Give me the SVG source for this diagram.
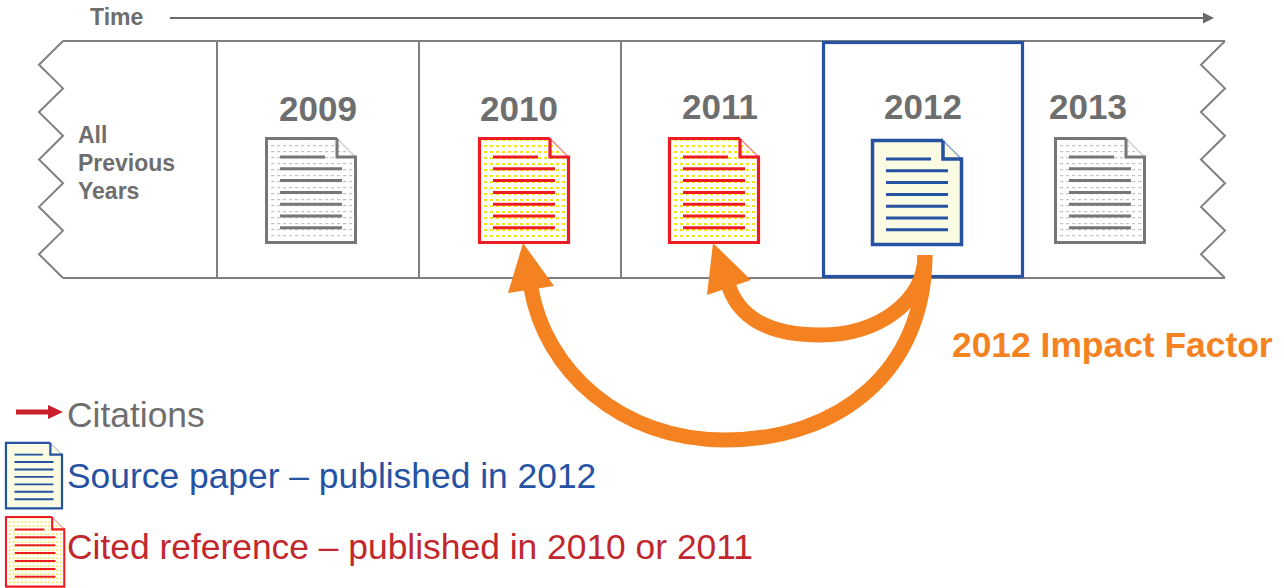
<svg xmlns="http://www.w3.org/2000/svg" xmlns:xlink="http://www.w3.org/1999/xlink" width="1284" height="588" viewBox="0 0 1284 588">
<style>
  .band{fill:none;stroke:#7f7f7f;stroke-width:2}
  .yr{font-family:"Liberation Sans",Arial,sans-serif;font-weight:bold;font-size:35px;fill:#6e6e6e;text-anchor:middle}
  .lbl{font-family:"Liberation Sans",Arial,sans-serif;font-weight:bold;fill:#6e6e6e}
  .leg{font-family:"Liberation Sans",Arial,sans-serif;font-size:35.4px}
  .cite{fill:none;stroke:#f58220;stroke-width:15}
  .head{fill:#f58220}
</style>
<defs>
  <pattern id="pGray" width="6" height="6" patternUnits="userSpaceOnUse">
    <rect width="6" height="6" fill="#ffffff"/>
    <rect x="0" y="2" width="3.2" height="1.2" fill="#c4c4c4"/>
  </pattern>
  <pattern id="pYel" width="6" height="6" patternUnits="userSpaceOnUse">
    <rect width="6" height="6" fill="#ffffff"/>
    <rect x="0" y="2" width="3" height="2" fill="#f4e41c"/>
  </pattern>
  <g id="lines">
    <path d="M15,20H60M15,31.8H77M15,43.6H77M15,55.4H77M15,67.2H77M15,79H77M15,90.8H77" stroke-width="3"/>
  </g>
  <g id="docGray">
    <path d="M1.5,1.5H72L90.5,20V105.5H1.5Z" fill="url(#pGray)"/>
    <path d="M72,1.5L90.5,20" fill="none" stroke="#d0d0d0" stroke-width="1.5"/>
    <path d="M72,1.5H1.5V105.5H90.5V20H72V1.5" fill="none" stroke="#777777" stroke-width="3"/>
    <use xlink:href="#lines" stroke="#777777"/>
  </g>
  <g id="docRed">
    <path d="M1.5,1.5H72L90.5,20V105.5H1.5Z" fill="url(#pYel)"/>
    <path d="M72,1.5L90.5,20" fill="none" stroke="#f08a8e" stroke-width="1.5"/>
    <path d="M72,1.5H1.5V105.5H90.5V20H72V1.5" fill="none" stroke="#ed1c24" stroke-width="3.2"/>
    <use xlink:href="#lines" stroke="#ed1c24"/>
  </g>
  <g id="docBlue">
    <path d="M1.5,1.5H72L90.5,20V105.5H1.5Z" fill="#fbfbe3"/>
    <path d="M72,1.5L90.5,20" fill="none" stroke="#8aa2d0" stroke-width="1.5"/>
    <path d="M72,1.5H1.5V105.5H90.5V20H72V1.5" fill="none" stroke="#2552a3" stroke-width="3.5"/>
    <use xlink:href="#lines" stroke="#2552a3"/>
  </g>
</defs>

<g id="time-axis">
  <text class="lbl" x="90" y="25" font-size="23">Time</text>
  <line x1="170" y1="18" x2="1205" y2="18" stroke="#6a6a6a" stroke-width="2"/>
  <polygon points="1203,12.5 1214,18 1203,23.5" fill="#6a6a6a"/>
</g>

<g id="band">
  <path class="band" d="M63,41H1225M63,278H1225"/>
  <polyline class="band" points="63,41 39,64.7 63,88.4 39,112.1 63,135.8 39,159.5 63,183.2 39,206.9 63,230.6 39,254.3 63,278"/>
  <polyline class="band" points="1225,41 1201,64.7 1225,88.4 1201,112.1 1225,135.8 1201,159.5 1225,183.2 1201,206.9 1225,230.6 1201,254.3 1225,278"/>
  <path class="band" d="M217,41V278M419,41V278M621,41V278"/>
</g>

<g id="prev">
  <text class="lbl" x="78" y="143" font-size="23">All</text>
  <text class="lbl" x="78" y="171" font-size="23">Previous</text>
  <text class="lbl" x="78" y="199" font-size="23">Years</text>
</g>

<g id="y2009">
  <text class="yr" x="318" y="121">2009</text>
  <use xlink:href="#docGray" transform="translate(265,137)"/>
</g>
<g id="y2010">
  <text class="yr" x="519" y="121">2010</text>
  <use xlink:href="#docRed" transform="translate(478,137)"/>
</g>
<g id="y2011">
  <text class="yr" x="720" y="119">2011</text>
  <use xlink:href="#docRed" transform="translate(668,137)"/>
</g>
<g id="y2012">
  <rect x="823.5" y="42.5" width="199" height="234" fill="none" stroke="#2552a3" stroke-width="3.2"/>
  <text class="yr" x="923" y="119">2012</text>
  <use xlink:href="#docBlue" transform="translate(871,139)"/>
</g>
<g id="y2013">
  <text class="yr" x="1088" y="119">2013</text>
  <use xlink:href="#docGray" transform="translate(1054,137)"/>
</g>

<g id="connectors">
  <path class="cite" d="M925,255 C925,370 840,440 725,440 C620,440 545,370 531,288"/>
  <polygon class="head" points="523,243 508,293 554,286"/>
  <path class="cite" d="M925,255 C925,300 880,335 820,335 C770,335 740,318 729,287"/>
  <polygon class="head" points="713,243 707,295 751,280"/>
</g>

<g id="impact">
  <text class="lbl" x="952" y="357" font-size="35.4" style="fill:#f58220">2012 Impact Factor</text>
</g>

<g id="legend">
  <g id="leg-citations">
    <rect x="16" y="409.5" width="34" height="5" fill="#c8202a"/>
    <polygon points="48,405 63,412 48,419" fill="#c8202a"/>
    <text class="leg" x="67" y="427" fill="#6e6e6e">Citations</text>
  </g>
  <g id="leg-source">
    <use xlink:href="#docBlue" transform="translate(5,442) scale(0.63,0.63)"/>
    <text class="leg" x="67" y="488" fill="#2552a3">Source paper – published in 2012</text>
  </g>
  <g id="leg-cited">
    <use xlink:href="#docRed" transform="translate(5,516) scale(0.655,0.67)"/>
    <text class="leg" x="67" y="559" fill="#c1272d">Cited reference – published in 2010 or 2011</text>
  </g>
</g>
</svg>
